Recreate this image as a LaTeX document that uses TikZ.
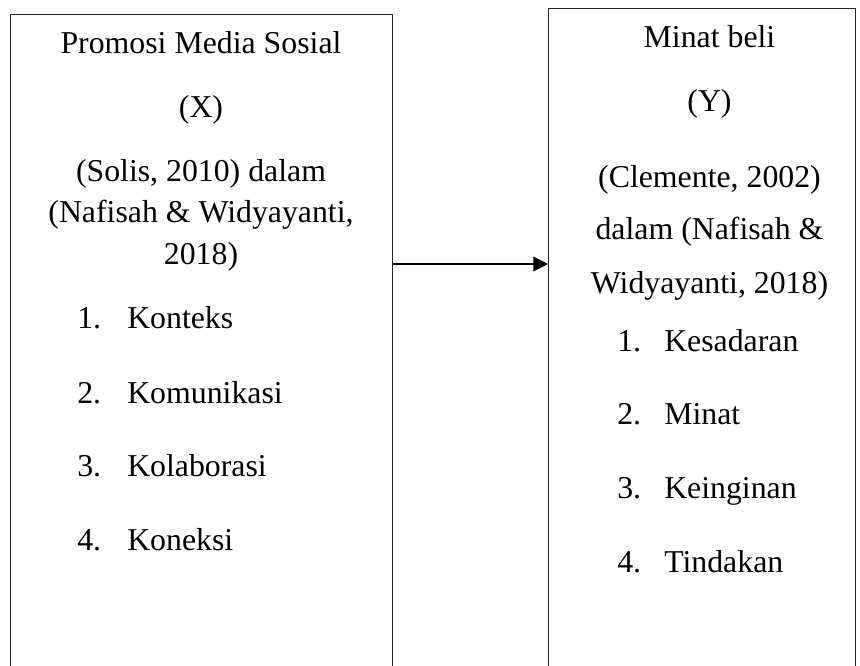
\documentclass[tikz,border=0pt]{standalone}
\usepackage{fontspec}
\setmainfont{Liberation Serif}
\usetikzlibrary{arrows.meta}
\begin{document}
\begin{tikzpicture}[x=0.75pt,y=-0.75pt,
  box/.style={draw=black!85, line width=0.8pt, anchor=north west, inner sep=0pt, minimum height=520pt},
  txt/.style={anchor=base, inner sep=0pt, font=\fontsize{23.85}{28}\selectfont},
  item/.style={anchor=base west, inner sep=0pt, font=\fontsize{23.85}{28}\selectfont},
  link/.style={line width=1.5pt, -{Triangle[length=11pt,width=11pt]}}]
\useasboundingbox (0,0) rectangle (860,666);
\fill[white] (0,0) rectangle (860,666);
% boxes (open at the bottom of the page)
\node[box, minimum width=286.5pt] (boxX) at (10,14){};
\node[box, minimum width=230.25pt] (boxY) at (548,8){};
% left box
\node[txt] (x0) at (201,54){Promosi Media Sosial};
\node[txt] (x1) at (201,118){(X)};
\node[txt] (x2) at (201,182){(Solis, 2010) dalam};
\node[txt] (x3) at (201,223){(Nafisah \& Widyayanti,};
\node[txt] (x4) at (201,265){2018)};
\node[item] (xn1) at (77,329){1.};
\node[item] (xn2) at (77,403){2.};
\node[item] (xn3) at (77,476){3.};
\node[item] (xn4) at (77,550){4.};
\node[item] (xi1) at (127,329){Konteks};
\node[item] (xi2) at (127,403){Komunikasi};
\node[item] (xi3) at (127,476){Kolaborasi};
\node[item] (xi4) at (127,550){Koneksi};
% right box
\node[txt] (y0) at (709.5,48){Minat beli};
\node[txt] (y1) at (709.5,112){(Y)};
\node[txt] (y2) at (709.5,188){(Clemente, 2002)};
\node[txt] (y3) at (709.5,240){dalam (Nafisah \&};
\node[txt] (y4) at (709.5,294){Widyayanti, 2018)};
\node[item] (yn1) at (617,352){1.};
\node[item] (yn2) at (617,425){2.};
\node[item] (yn3) at (617,498){3.};
\node[item] (yn4) at (617,572){4.};
\node[item] (yi1) at (664,352){Kesadaran};
\node[item] (yi2) at (664,425){Minat};
\node[item] (yi3) at (664,498){Keinginan};
\node[item] (yi4) at (664,572){Tindakan};
% arrow
\coordinate (row) at (0,264);
\draw[link] (boxX.north east |- row) -- (boxY.north west |- row);
\end{tikzpicture}
\end{document}
